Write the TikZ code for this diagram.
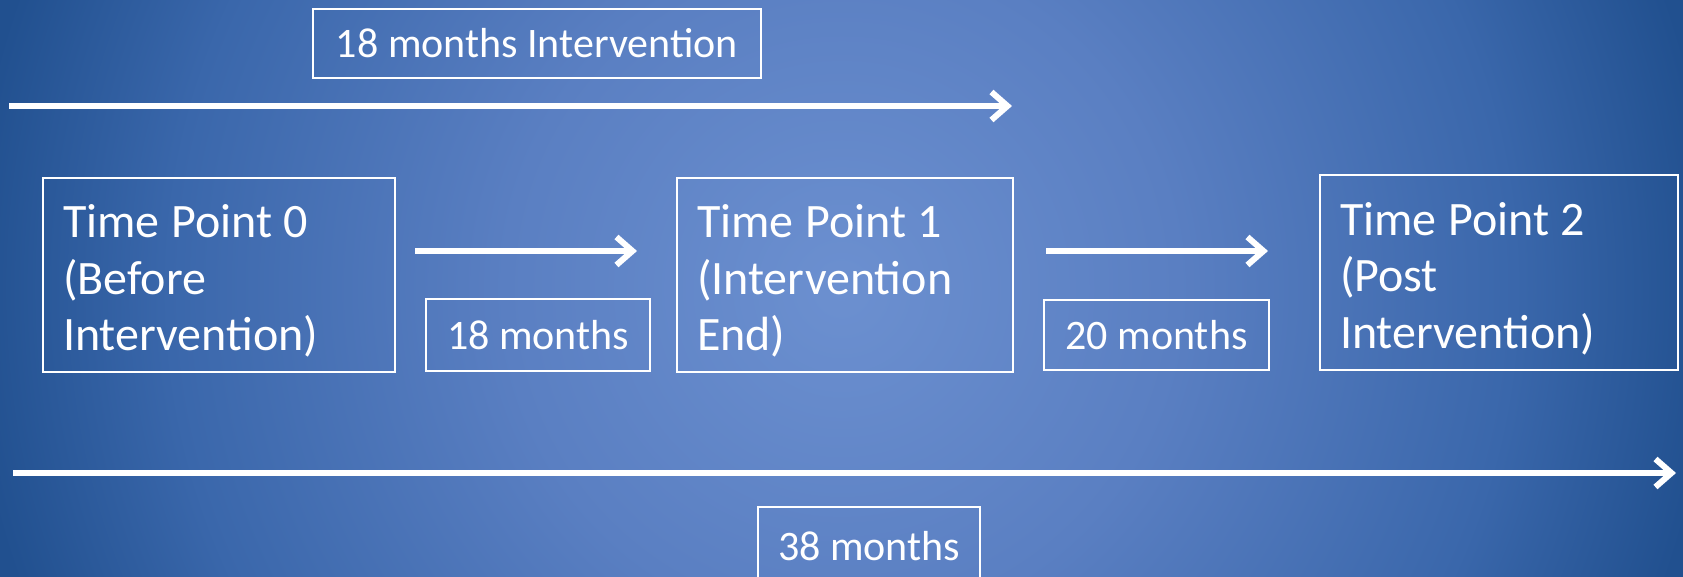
\documentclass[tikz,border=0pt]{standalone}
\usepackage{fontspec}
\setmainfont{Carlito}
\usetikzlibrary{arrows.meta}
\definecolor{bgA}{HTML}{6C90D0}
\definecolor{bgB}{HTML}{5A7FC2}
\definecolor{bgC}{HTML}{3A67AB}
\definecolor{bgD}{HTML}{21508F}
\pgfdeclareradialshading{bgshade}{\pgfpoint{0bp}{0bp}}{color(0bp)=(bgA); color(10bp)=(bgB); color(20bp)=(bgC); color(26bp)=(bgD); color(50bp)=(bgD)}
\newcommand\tsp{\hspace{11.5pt}}
\tikzset{
  tpbox/.style={draw=white, line width=2pt, text=white, align=left, inner xsep=20pt,
    minimum height=194pt, text height=40pt, text depth=114pt, font=\fontsize{48}{56.5}\selectfont},
  lblbox/.style={draw=white, line width=2pt, text=white, align=center,
    font=\fontsize{42}{50}\selectfont},
  arr/.style={draw=white, line width=6pt, -{Straight Barb[length=16pt,width=28pt]}}
}
\begin{document}
\begin{tikzpicture}[x=1pt,y=-1pt]
\useasboundingbox (0,0) rectangle (1683,577);
\begin{scope}
\clip (0,0) rectangle (1683,577);
\shade[shading=bgshade] (0,-553) rectangle (1683,1130);

\node[lblbox, minimum width=448pt, minimum height=69pt] (top) at (537,43.5) {18 months Intervention};
\node[tpbox, text width=312pt] (tp0) at (219,275) {Time\tsp Point\tsp 0\\(Before\\Intervention)};
\node[tpbox, text width=296pt] (tp1) at (845,275) {Time\tsp Point\tsp 1\\(Intervention\\End)};
\node[tpbox, text width=318pt] (tp2) at (1499,272.5) {Time\tsp Point\tsp 2\\(Post\\Intervention)};
\node[lblbox, minimum width=224pt, minimum height=72pt] (m18) at (538,335) {18 months};
\node[lblbox, minimum width=225pt, minimum height=70pt] (m20) at (1156.5,335) {20 months};
\node[lblbox, minimum width=222pt, minimum height=78pt] (m38) at (869,546) {38 months};

\coordinate (t0) at (9,106);
\coordinate (t1) at (1012,106);
\coordinate (b0) at (13,473);
\coordinate (b1) at (1676,473);
\coordinate (a1s) at ([xshift=19pt,yshift=24pt]tp0.east);
\coordinate (a1e) at ([xshift=-39pt,yshift=24pt]tp1.west);
\coordinate (a2s) at ([xshift=32pt,yshift=24pt]tp1.east);
\coordinate (a2e) at ([xshift=-51pt,yshift=21.5pt]tp2.west);

\draw[arr] (t0) -- (t1);
\draw[arr] (b0) -- (b1);
\draw[arr] (a1s) -- (a1e);
\draw[arr] (a2s) -- (a2e);
\end{scope}
\end{tikzpicture}
\end{document}
